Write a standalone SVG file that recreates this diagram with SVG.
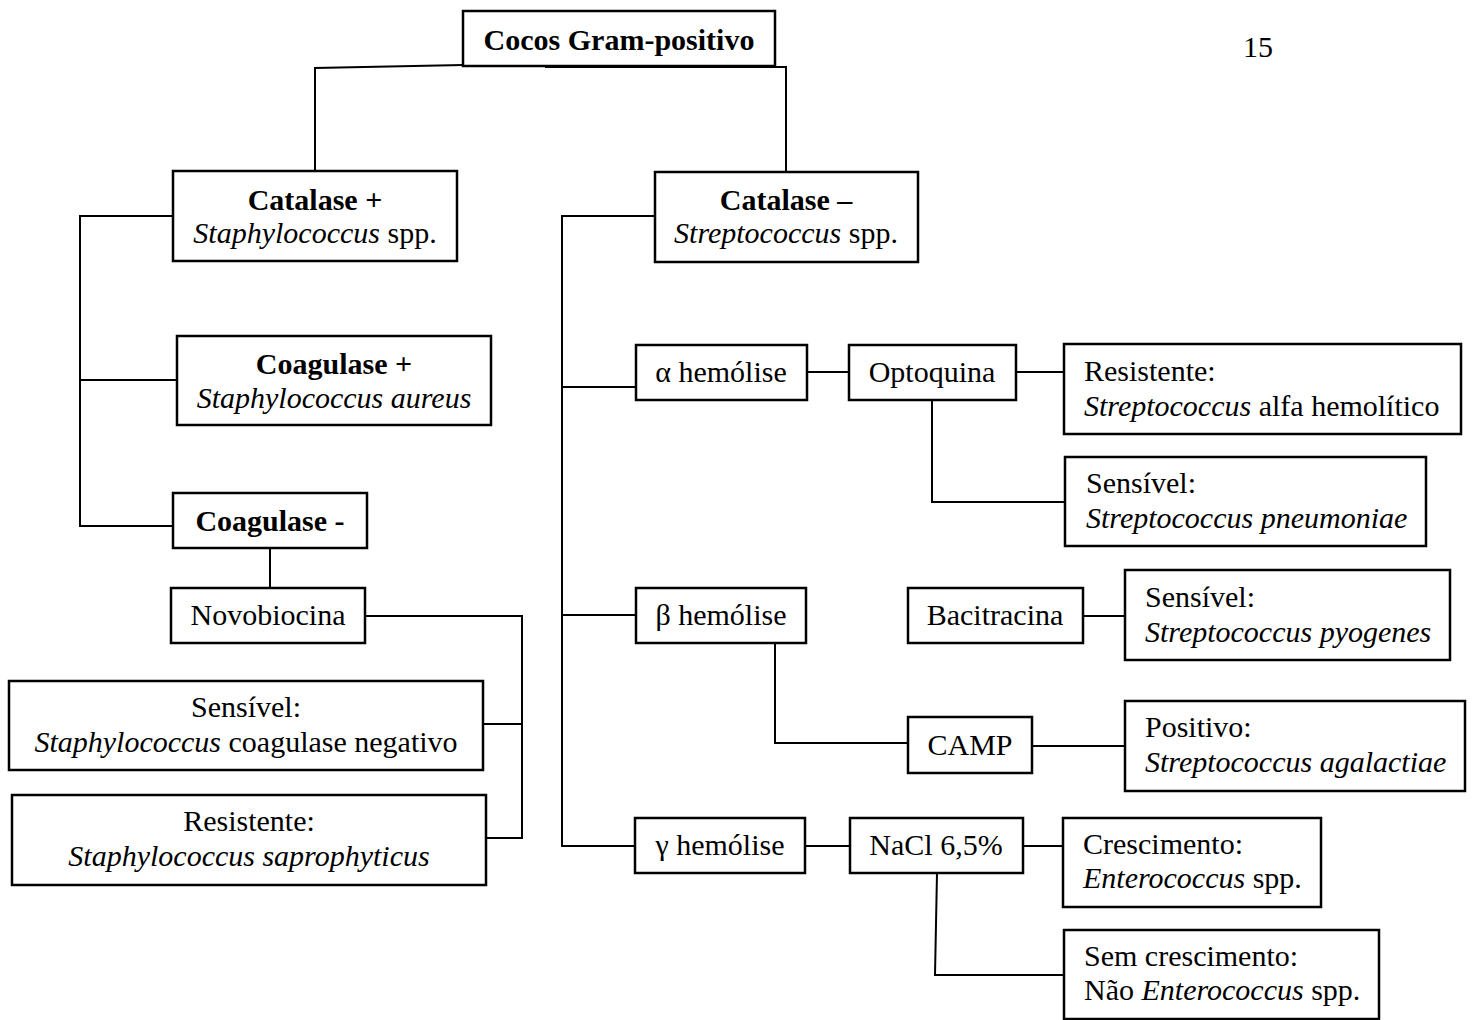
<svg xmlns="http://www.w3.org/2000/svg" width="1475" height="1020" viewBox="0 0 1475 1020">
<style>
.box{fill:#fff;stroke:#000;stroke-width:2.5}
.ln{fill:none;stroke:#000;stroke-width:2}
text{font-family:"Liberation Serif","Times New Roman",serif;font-size:30px;fill:#000}
.c{text-anchor:middle}
.b{font-weight:bold}
.i{font-style:italic}
</style>
<rect width="1475" height="1020" fill="#fff"/>
<g id="connectors">
<polyline class="ln" points="463,65 315,68 315,171"/>
<polyline class="ln" points="545,67 786,67 786,172"/>
<polyline class="ln" points="173,216 80,216 80,526 173,526"/>
<line class="ln" x1="80" y1="380" x2="177" y2="380"/>
<line class="ln" x1="270" y1="548" x2="270" y2="588"/>
<polyline class="ln" points="365,616 522,616 522,838 486,838"/>
<line class="ln" x1="483" y1="724" x2="522" y2="724"/>
<polyline class="ln" points="655,216 562,216 562,846 635,846"/>
<line class="ln" x1="562" y1="387" x2="636" y2="387"/>
<line class="ln" x1="562" y1="615" x2="636" y2="615"/>
<line class="ln" x1="807" y1="372" x2="849" y2="372"/>
<line class="ln" x1="1016" y1="372" x2="1064" y2="372"/>
<polyline class="ln" points="932,400 932,502 1065,502"/>
<line class="ln" x1="1083" y1="616" x2="1125" y2="616"/>
<polyline class="ln" points="775,643 775,743 908,743"/>
<line class="ln" x1="1032" y1="746" x2="1125" y2="746"/>
<line class="ln" x1="805" y1="846" x2="850" y2="846"/>
<line class="ln" x1="1023" y1="846" x2="1063" y2="846"/>
<polyline class="ln" points="937,873 935,975 1064,975"/>
</g>
<g id="page-number"><text x="1243" y="57">15</text></g>
<g id="n-cocos"><rect class="box" x="463" y="11" width="312" height="55"/><text class="c b" x="619" y="50">Cocos Gram-positivo</text></g>
<g id="n-catpos"><rect class="box" x="173" y="171" width="284" height="90"/><text class="c b" x="315" y="210">Catalase +</text><text class="c" x="315" y="243"><tspan class="i">Staphylococcus</tspan> spp.</text></g>
<g id="n-catneg"><rect class="box" x="655" y="172" width="263" height="90"/><text class="c b" x="786" y="210">Catalase –</text><text class="c" x="786" y="243"><tspan class="i">Streptococcus</tspan> spp.</text></g>
<g id="n-coagpos"><rect class="box" x="177" y="336" width="314" height="89"/><text class="c b" x="334" y="374">Coagulase +</text><text class="c i" x="334" y="408">Staphylococcus aureus</text></g>
<g id="n-coagneg"><rect class="box" x="173" y="493" width="194" height="55"/><text class="c b" x="270" y="531">Coagulase -</text></g>
<g id="n-novo"><rect class="box" x="171" y="588" width="194" height="55"/><text class="c" x="268" y="625">Novobiocina</text></g>
<g id="n-sens-cn"><rect class="box" x="9" y="681" width="474" height="89"/><text class="c" x="246" y="717">Sensível:</text><text class="c" x="246" y="752"><tspan class="i">Staphylococcus</tspan> coagulase negativo</text></g>
<g id="n-res-sap"><rect class="box" x="12" y="795" width="474" height="90"/><text class="c" x="249" y="831">Resistente:</text><text class="c i" x="249" y="866">Staphylococcus saprophyticus</text></g>
<g id="n-alfa"><rect class="box" x="636" y="345" width="171" height="55"/><text class="c" x="721" y="382">α hemólise</text></g>
<g id="n-opto"><rect class="box" x="849" y="345" width="167" height="55"/><text class="c" x="932" y="382">Optoquina</text></g>
<g id="n-res-alfa"><rect class="box" x="1064" y="344" width="397" height="90"/><text x="1084" y="381">Resistente:</text><text x="1084" y="416"><tspan class="i">Streptococcus</tspan> alfa hemolítico</text></g>
<g id="n-sens-pneu"><rect class="box" x="1065" y="457" width="361" height="89"/><text x="1086" y="493">Sensível:</text><text class="i" x="1086" y="528">Streptococcus pneumoniae</text></g>
<g id="n-beta"><rect class="box" x="636" y="588" width="170" height="55"/><text class="c" x="721" y="625">β hemólise</text></g>
<g id="n-baci"><rect class="box" x="908" y="588" width="175" height="55"/><text class="c" x="995" y="625">Bacitracina</text></g>
<g id="n-sens-pyo"><rect class="box" x="1125" y="570" width="325" height="90"/><text x="1145" y="607">Sensível:</text><text class="i" x="1145" y="642">Streptococcus pyogenes</text></g>
<g id="n-camp"><rect class="box" x="908" y="717" width="124" height="56"/><text class="c" x="970" y="755">CAMP</text></g>
<g id="n-pos-aga"><rect class="box" x="1125" y="701" width="340" height="90"/><text x="1145" y="737">Positivo:</text><text class="i" x="1145" y="772">Streptococcus agalactiae</text></g>
<g id="n-gama"><rect class="box" x="635" y="818" width="170" height="55"/><text class="c" x="720" y="855">γ hemólise</text></g>
<g id="n-nacl"><rect class="box" x="850" y="818" width="173" height="55"/><text class="c" x="936" y="855">NaCl 6,5%</text></g>
<g id="n-cresc"><rect class="box" x="1063" y="818" width="258" height="89"/><text x="1083" y="854">Crescimento:</text><text x="1083" y="888"><tspan class="i">Enterococcus</tspan> spp.</text></g>
<g id="n-semcresc"><rect class="box" x="1064" y="930" width="315" height="89"/><text x="1084" y="966">Sem crescimento:</text><text x="1084" y="1000">Não <tspan class="i">Enterococcus</tspan> spp.</text></g>
</svg>
